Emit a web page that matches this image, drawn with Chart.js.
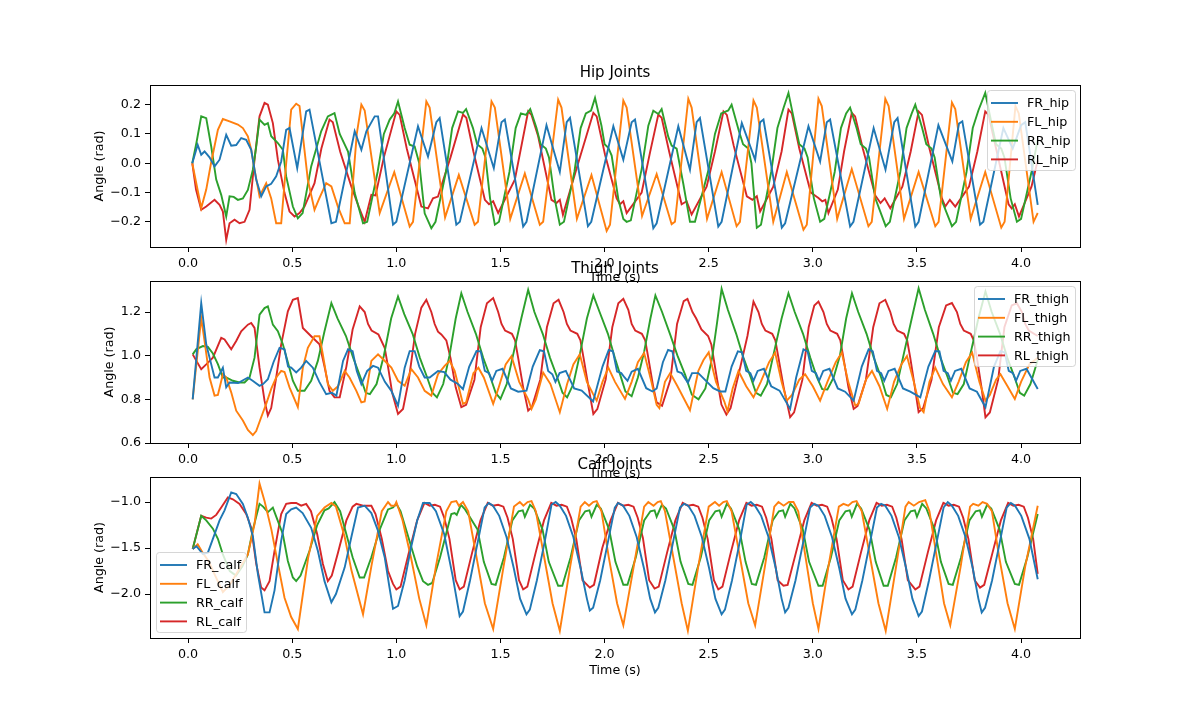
<!DOCTYPE html>
<html>
<head>
<meta charset="utf-8">
<script src="https://cdn.jsdelivr.net/npm/chart.js@4.4.0/dist/chart.umd.min.js"></script>
<style>
body { margin:0; background:#fff; width:1200px; height:718px; position:relative; overflow:hidden; }
canvas { position:absolute; left:0; }
</style>
</head>
<body>
<canvas id="hipChart" width="1200" height="242" style="top:45px"></canvas>
<canvas id="thighChart" width="1200" height="242" style="top:241px"></canvas>
<canvas id="calfChart" width="1200" height="244" style="top:437px"></canvas>
<script>
// joint angles, [time (s), angle (rad)]
var FR_hip = [[0.02,0.0],[0.046,0.063],[0.063,0.029],[0.079,0.04],[0.103,0.02],[0.127,-0.011],[0.151,0.012],[0.183,0.097],[0.207,0.06],[0.231,0.062],[0.255,0.086],[0.279,0.08],[0.303,0.046],[0.327,-0.056],[0.351,-0.113],[0.375,-0.079],[0.399,-0.07],[0.423,-0.045],[0.447,0.006],
[0.471,0.114],[0.487,0.12],[0.524,-0.017],[0.567,0.177],[0.583,0.183],[0.688,-0.205],[0.71,-0.2],
[0.8,0.109],[0.832,0.046],[0.856,0.109],[0.896,0.16],[0.912,0.16],[0.984,-0.21],[1.0,-0.2],
[1.104,0.126],[1.152,0.023],[1.192,0.14],[1.208,0.154],[1.288,-0.21],[1.305,-0.2],
[1.409,0.12],[1.468,-0.017],[1.505,0.14],[1.521,0.149],[1.609,-0.216],[1.625,-0.2],
[1.721,0.13],[1.785,-0.03],[1.818,0.14],[1.834,0.155],[1.92,-0.215],[1.936,-0.2],
[2.042,0.126],[2.09,0.012],[2.13,0.14],[2.146,0.149],[2.234,-0.222],[2.25,-0.205],
[2.354,0.126],[2.41,-0.022],[2.442,0.14],[2.458,0.154],[2.546,-0.216],[2.562,-0.2],
[2.659,0.137],[2.723,0.012],[2.747,0.14],[2.763,0.149],[2.851,-0.22],[2.867,-0.205],
[2.979,0.126],[3.035,0.006],[3.067,0.14],[3.083,0.149],[3.179,-0.216],[3.195,-0.2],
[3.292,0.12],[3.349,-0.022],[3.391,0.14],[3.407,0.154],[3.492,-0.216],[3.508,-0.2],
[3.603,0.13],[3.67,0.006],[3.702,0.135],[3.718,0.143],[3.803,-0.21],[3.819,-0.2],
[3.915,0.12],[3.96,0.05],[4.0,0.13],[4.02,0.14],[4.08,-0.142]]

var FL_hip = [[0.02,0.0],[0.063,-0.153],[0.087,-0.09],[0.11,0.0],[0.143,0.114],[0.167,0.151],[0.199,0.143],[0.239,0.132],[0.263,0.12],[0.287,0.092],[0.303,0.046],[0.319,-0.022],[0.343,-0.113],[0.375,-0.068],[0.399,-0.12],[0.423,-0.205],[0.447,-0.205],[0.471,0.0],[0.495,0.183],[0.519,0.203],[0.535,0.195],[0.575,-0.057],[0.607,-0.159],[0.63,-0.12],[0.663,-0.068],[0.688,-0.079],[0.72,-0.15],[0.752,-0.205],[0.776,-0.205],[0.81,0.1],[0.832,0.2],
[0.848,0.18],[0.92,-0.17],[0.99,-0.03],[1.064,-0.216],[1.08,-0.2],
[1.144,0.211],[1.16,0.19],[1.234,-0.185],[1.3,-0.04],[1.376,-0.21],[1.392,-0.2],
[1.457,0.211],[1.473,0.19],[1.547,-0.19],[1.617,-0.035],[1.689,-0.21],[1.705,-0.2],
[1.777,0.217],[1.793,0.19],[1.867,-0.19],[1.937,-0.04],[2.01,-0.231],[2.026,-0.21],
[2.09,0.214],[2.106,0.19],[2.18,-0.18],[2.25,-0.037],[2.322,-0.208],[2.338,-0.2],
[2.402,0.22],[2.418,0.19],[2.492,-0.19],[2.562,-0.03],[2.634,-0.215],[2.65,-0.2],
[2.715,0.214],[2.731,0.19],[2.81,-0.2],[2.875,-0.03],[2.955,-0.227],[2.971,-0.21],
[3.027,0.22],[3.043,0.195],[3.117,-0.19],[3.187,-0.02],[3.267,-0.215],[3.283,-0.2],
[3.348,0.22],[3.364,0.195],[3.438,-0.19],[3.508,-0.03],[3.588,-0.215],[3.604,-0.2],
[3.668,0.207],[3.684,0.185],[3.758,-0.19],[3.828,-0.03],[3.905,-0.22],[3.921,-0.2],
[3.973,0.195],[3.989,0.17],[4.06,-0.2],[4.08,-0.17]]

var RR_hip = [[0.02,0.0],[0.04,0.07],[0.063,0.16],[0.087,0.154],[0.111,0.057],[0.135,-0.056],[0.159,-0.108],[0.183,-0.182],[0.199,-0.113],[0.219,-0.115],[0.239,-0.125],[0.263,-0.12],[0.287,-0.091],[0.311,-0.022],[0.327,0.057],[0.343,0.149],[0.367,0.131],[0.383,0.137],[0.399,0.092],[0.431,0.069],[0.455,0.046],[0.471,-0.045],[0.503,-0.148],[0.527,-0.188],[0.55,-0.17],[0.591,-0.011],[0.639,0.109],[0.671,0.16],[0.703,0.171],[0.728,0.1],[0.768,0.04],[0.8,-0.102],[0.84,-0.205],
[0.86,-0.2],[0.91,-0.03],[0.94,0.1],[0.968,0.149],[0.99,0.17],[1.008,0.211],[1.04,0.12],[1.064,0.063],[1.088,0.057],[1.11,0.0],[1.136,-0.171],[1.168,-0.222],
[1.188,-0.2],[1.238,-0.03],[1.268,0.12],[1.296,0.177],[1.32,0.172],[1.335,0.185],[1.368,0.12],[1.388,0.065],[1.413,0.05],[1.428,0.02],[1.45,-0.12],[1.473,-0.21],
[1.493,-0.2],[1.543,-0.03],[1.573,0.12],[1.598,0.17],[1.623,0.165],[1.643,0.185],[1.673,0.12],[1.693,0.065],[1.718,0.05],[1.733,0.02],[1.76,-0.12],[1.785,-0.21],
[1.805,-0.2],[1.855,-0.03],[1.885,0.12],[1.91,0.17],[1.935,0.18],[1.954,0.223],[1.985,0.128],[2.0,0.065],[2.018,0.053],[2.034,0.026],[2.066,-0.123],[2.09,-0.19],[2.106,-0.2],
[2.126,-0.195],[2.178,-0.02],[2.21,0.128],[2.234,0.179],[2.258,0.168],[2.274,0.185],[2.306,0.09],[2.322,0.06],[2.346,0.05],[2.378,-0.07],[2.41,-0.2],[2.434,-0.2],
[2.5,-0.02],[2.53,0.1],[2.56,0.17],[2.594,0.18],[2.61,0.2],[2.645,0.11],[2.665,0.065],[2.69,0.05],[2.705,0.0],[2.731,-0.22],
[2.751,-0.21],[2.8,-0.03],[2.83,0.12],[2.86,0.19],[2.883,0.24],[2.915,0.13],[2.935,0.065],[2.96,0.05],[2.975,0.02],[3.005,-0.12],[3.035,-0.2],
[3.055,-0.19],[3.105,-0.03],[3.135,0.12],[3.16,0.17],[3.179,0.19],[3.21,0.12],[3.23,0.065],[3.255,0.05],[3.27,0.02],[3.3,-0.12],[3.35,-0.215],
[3.37,-0.2],[3.42,-0.03],[3.45,0.12],[3.475,0.17],[3.492,0.2],[3.525,0.12],[3.545,0.065],[3.57,0.05],[3.585,0.02],[3.615,-0.12],[3.668,-0.215],
[3.688,-0.2],[3.738,-0.03],[3.768,0.12],[3.795,0.18],[3.828,0.24],[3.86,0.13],[3.88,0.065],[3.905,0.05],[3.92,0.02],[3.95,-0.12],[3.98,-0.2],[4.0,-0.19],[4.05,-0.03],[4.08,0.08]]

var RL_hip = [[0.02,0.0],[0.038,-0.09],[0.063,-0.159],[0.087,-0.148],[0.127,-0.125],[0.151,-0.142],[0.167,-0.165],[0.183,-0.262],[0.199,-0.205],[0.223,-0.193],[0.247,-0.205],[0.271,-0.2],[0.295,-0.159],[0.319,0.012],[0.343,0.16],[0.367,0.206],[0.383,0.2],[0.407,0.137],[0.431,0.012],[0.463,-0.102],[0.487,-0.165],[0.511,-0.182],[0.535,-0.17],[0.559,-0.148],[0.607,-0.068],[0.64,0.05],[0.679,0.149],
[0.695,0.14],[0.73,0.04],[0.784,-0.08],[0.82,-0.15],[0.848,-0.2],[0.88,-0.108],[0.9,-0.11],[0.94,0.02],[1.0,0.177],
[1.016,0.165],[1.05,0.05],[1.088,-0.057],[1.12,-0.148],[1.152,-0.154],[1.176,-0.12],[1.2,-0.114],[1.26,0.02],[1.32,0.166],
[1.336,0.155],[1.37,0.04],[1.425,-0.125],[1.445,-0.14],[1.465,-0.13],[1.489,-0.17],[1.569,-0.056],[1.633,0.177],
[1.649,0.165],[1.681,0.092],[1.745,-0.125],[1.769,-0.136],[1.785,-0.125],[1.8,-0.176],[1.873,0.0],[1.946,0.172],
[1.962,0.16],[2.002,0.03],[2.058,-0.12],[2.074,-0.14],[2.09,-0.13],[2.106,-0.17],[2.178,-0.1],[2.218,0.036],[2.258,0.166],
[2.274,0.155],[2.31,0.04],[2.37,-0.14],[2.394,-0.13],[2.418,-0.175],[2.49,-0.08],[2.53,0.04],[2.571,0.177],
[2.587,0.165],[2.62,0.06],[2.683,-0.113],[2.71,-0.125],[2.731,-0.113],[2.747,-0.165],[2.81,-0.08],[2.85,0.04],[2.883,0.183],
[2.899,0.17],[2.935,0.05],[2.99,-0.1],[3.027,-0.119],[3.045,-0.13],[3.06,-0.125],[3.075,-0.17],[3.12,-0.09],[3.15,0.04],[3.187,0.172],
[3.203,0.16],[3.24,0.05],[3.3,-0.11],[3.325,-0.136],[3.345,-0.12],[3.372,-0.154],[3.43,-0.08],[3.47,0.04],[3.508,0.177],
[3.524,0.165],[3.56,0.05],[3.62,-0.12],[3.636,-0.148],[3.658,-0.125],[3.684,-0.148],[3.75,-0.08],[3.79,0.04],[3.828,0.177],
[3.844,0.165],[3.88,0.05],[3.94,-0.14],[3.955,-0.154],[3.97,-0.14],[3.99,-0.182],[4.05,-0.08],[4.08,0.01]]

var FR_thigh = [[0.022,0.8],[0.063,1.241],[0.087,1.052],[0.103,0.991],[0.127,0.9],[0.143,0.9],[0.167,0.945],[0.183,0.855],[0.199,0.877],[0.24,0.875],[0.287,0.9],[0.31,0.885],[0.343,0.862],[0.36,0.87],[0.383,0.892],[0.41,0.97],[0.439,1.036],[0.463,1.029],[0.48,0.95],[0.495,0.945],[0.519,0.923],[0.543,0.945],[0.567,0.976],[0.599,0.945],[0.63,0.88],[0.663,0.824],[0.69,0.83],[0.712,0.817],[0.744,0.976],[0.768,1.029],[0.79,1.02],[0.81,0.93],[0.832,0.87],[0.86,0.93],[0.888,0.953],[0.912,0.945],[0.945,0.88],[0.976,0.839],[1.008,0.771],[1.04,0.945],[1.064,1.021],[1.088,1.021],[1.11,0.95],[1.136,0.9],[1.16,0.9],[1.2,0.93],[1.23,0.925],[1.26,0.89],[1.296,0.87],[1.32,0.847],[1.35,0.95],
[1.385,1.021],[1.405,1.02],[1.425,0.93],[1.445,0.92],[1.46,0.885],[1.48,0.93],[1.51,0.94],[1.55,0.85],[1.585,0.835],[1.625,0.84],[1.655,0.95],
[1.689,1.025],[1.709,1.02],[1.729,0.93],[1.749,0.915],[1.764,0.88],[1.784,0.92],[1.814,0.93],[1.854,0.85],[1.89,0.84],[1.945,0.79],[1.99,0.95],
[2.02,1.026],[2.04,1.02],[2.06,0.927],[2.08,0.92],[2.096,0.9],[2.11,0.885],[2.13,0.927],[2.16,0.94],[2.2,0.851],[2.23,0.836],[2.25,0.85],[2.28,0.97],
[2.305,1.026],[2.325,1.02],[2.35,0.927],[2.37,0.92],[2.4,0.876],[2.42,0.92],[2.45,0.92],[2.522,0.851],[2.555,0.836],[2.58,0.836],[2.61,0.95],
[2.64,1.02],[2.66,1.015],[2.68,0.93],[2.7,0.92],[2.715,0.885],[2.735,0.93],[2.765,0.94],[2.8,0.86],[2.84,0.84],[2.891,0.756],[2.92,0.9],
[2.955,1.029],[2.975,1.02],[2.995,0.93],[3.015,0.92],[3.03,0.885],[3.05,0.93],[3.08,0.94],[3.12,0.85],[3.155,0.835],[3.196,0.794],[3.235,0.95],
[3.268,1.029],[3.288,1.02],[3.308,0.93],[3.328,0.92],[3.343,0.885],[3.363,0.93],[3.393,0.94],[3.433,0.85],[3.468,0.835],[3.516,0.809],[3.555,0.95],
[3.588,1.021],[3.608,1.02],[3.628,0.93],[3.648,0.92],[3.663,0.885],[3.683,0.93],[3.713,0.94],[3.753,0.85],[3.788,0.835],[3.829,0.764],[3.87,0.95],
[3.901,1.021],[3.921,1.015],[3.941,0.93],[3.961,0.92],[3.976,0.885],[3.996,0.93],[4.026,0.94],[4.08,0.847]]

var FL_thigh = [[0.022,0.8],[0.063,1.173],[0.079,1.067],[0.103,0.9],[0.127,0.817],[0.143,0.82],[0.167,0.915],[0.183,0.9],[0.207,0.832],[0.231,0.748],[0.263,0.703],[0.287,0.66],[0.311,0.636],[0.327,0.655],[0.351,0.718],[0.375,0.779],[0.4,0.85],[0.423,0.9],[0.447,0.93],[0.463,0.925],[0.487,0.855],[0.527,0.764],[0.551,0.945],[0.575,1.036],[0.607,1.089],[0.631,1.089],[0.647,1.006],[0.671,0.87],[0.695,0.839],[0.72,0.86],[0.752,0.93],[0.775,0.9],[0.808,0.839],[0.832,0.786],[0.848,0.79],[0.88,0.976],[0.912,1.006],[0.94,0.98],[0.976,0.945],[1.008,0.885],[1.04,0.862],[1.072,0.938],[1.104,0.9],[1.136,0.839],[1.168,0.817],[1.2,0.915],[1.232,0.953],[1.256,0.976],[1.28,0.93],[1.32,0.779],[1.335,0.786],[1.37,0.92],[1.394,0.945],[1.42,0.9],[1.465,0.779],[1.49,0.85],[1.525,0.96],[1.553,0.998],
[1.59,0.88],[1.633,0.8],[1.649,0.756],[1.67,0.8],[1.705,0.923],[1.74,0.87],[1.785,0.741],[1.82,0.87],[1.85,0.96],[1.881,1.006],
[1.915,0.88],[1.945,0.824],[1.962,0.794],[1.99,0.88],[2.018,0.945],[2.05,0.88],[2.098,0.802],[2.13,0.88],[2.16,0.97],[2.19,1.012],
[2.225,0.88],[2.25,0.775],[2.263,0.76],[2.29,0.88],[2.315,0.92],[2.35,0.86],[2.41,0.75],[2.45,0.93],[2.475,0.98],[2.5,1.015],
[2.535,0.88],[2.575,0.79],[2.59,0.745],[2.615,0.85],[2.643,0.93],[2.68,0.86],[2.715,0.809],[2.75,0.88],[2.79,0.97],[2.819,1.014],
[2.85,0.88],[2.875,0.794],[2.9,0.82],[2.935,0.89],[2.963,0.915],[3.0,0.86],[3.035,0.794],[3.07,0.88],[3.11,0.97],[3.139,1.014],
[3.17,0.88],[3.204,0.771],[3.22,0.78],[3.255,0.89],[3.284,0.93],[3.32,0.86],[3.357,0.756],[3.39,0.88],[3.425,0.96],[3.452,0.998],
[3.485,0.88],[3.515,0.76],[3.532,0.741],[3.56,0.88],[3.588,0.945],[3.625,0.87],[3.668,0.809],[3.7,0.88],[3.735,0.97],[3.765,1.014],
[3.8,0.88],[3.829,0.794],[3.85,0.82],[3.88,0.89],[3.901,0.915],[3.935,0.86],[3.97,0.802],[4.0,0.88],[4.04,0.96],[4.08,0.99]]

var RR_thigh = [[0.022,1.006],[0.04,1.03],[0.071,1.044],[0.095,1.04],[0.119,1.01],[0.143,0.961],[0.167,0.9],[0.183,0.9],[0.215,0.885],[0.247,0.877],[0.271,0.877],[0.295,0.9],[0.319,0.991],[0.343,1.188],[0.367,1.218],[0.383,1.226],[0.407,1.142],[0.431,1.112],[0.455,1.052],[0.479,0.97],[0.503,0.885],[0.527,0.839],[0.559,0.839],[0.591,0.885],[0.623,0.976],[0.655,1.112],[0.688,1.241],
[0.718,1.17],[0.758,1.09],[0.793,0.99],[0.828,0.9],[0.853,0.83],[0.873,0.824],[0.905,0.87],[0.94,1.0],[0.975,1.17],[1.008,1.271],
[1.038,1.19],[1.078,1.1],[1.113,0.99],[1.148,0.9],[1.173,0.83],[1.195,0.809],[1.225,0.87],[1.255,1.0],[1.285,1.17],[1.312,1.286],
[1.342,1.2],[1.382,1.1],[1.417,0.99],[1.452,0.9],[1.477,0.83],[1.5,0.802],[1.53,0.87],[1.56,1.0],[1.6,1.17],[1.633,1.302],
[1.663,1.2],[1.703,1.1],[1.738,0.99],[1.773,0.9],[1.798,0.83],[1.82,0.809],[1.85,0.87],[1.88,1.0],[1.915,1.17],[1.946,1.276],
[1.976,1.2],[2.016,1.1],[2.05,0.988],[2.08,0.897],[2.1,0.836],[2.13,0.814],[2.16,0.9],[2.19,1.018],[2.22,1.17],[2.244,1.276],
[2.276,1.2],[2.316,1.094],[2.35,1.0],[2.387,0.912],[2.419,0.821],[2.451,0.8],[2.484,0.85],[2.516,0.988],[2.54,1.15],[2.562,1.306],
[2.592,1.21],[2.632,1.1],[2.667,0.99],[2.702,0.9],[2.727,0.83],[2.75,0.817],[2.78,0.87],[2.81,1.0],[2.85,1.17],[2.883,1.286],
[2.913,1.2],[2.953,1.1],[2.988,0.99],[3.02,0.9],[3.045,0.847],[3.07,0.845],[3.1,0.9],[3.13,1.0],[3.16,1.17],[3.188,1.286],
[3.218,1.2],[3.258,1.1],[3.293,0.99],[3.328,0.9],[3.353,0.82],[3.375,0.81],[3.405,0.87],[3.435,1.0],[3.475,1.17],[3.508,1.309],
[3.538,1.21],[3.578,1.1],[3.613,0.99],[3.648,0.9],[3.673,0.83],[3.695,0.824],[3.725,0.87],[3.755,1.0],[3.795,1.17],[3.829,1.294],
[3.859,1.2],[3.899,1.1],[3.934,0.99],[3.969,0.9],[3.994,0.83],[4.015,0.817],[4.045,0.87],[4.08,0.98]]

var RL_thigh = [[0.022,1.006],[0.063,0.938],[0.087,0.96],[0.119,0.991],[0.159,1.082],[0.175,1.074],[0.207,1.029],[0.231,1.067],[0.255,1.112],[0.287,1.142],[0.303,1.15],[0.319,1.127],[0.343,0.945],[0.367,0.794],[0.383,0.726],[0.399,0.76],[0.423,0.9],[0.447,1.052],[0.479,1.203],[0.503,1.256],[0.527,1.264],[0.551,1.127],[0.591,1.089],[0.631,1.052],[0.655,0.95],[0.679,0.839],[0.703,0.809],[0.728,0.809],[0.76,0.95],[0.79,1.12],[0.824,1.226],
[0.848,1.2],[0.864,1.145],[0.881,1.115],[0.914,1.097],[0.944,1.036],[0.96,0.95],[0.98,0.83],[1.008,0.733],[1.032,0.756],[1.06,0.89],[1.09,1.1],[1.12,1.22],[1.144,1.256],
[1.168,1.2],[1.184,1.145],[1.2,1.11],[1.216,1.097],[1.24,1.07],[1.26,0.99],[1.285,0.855],[1.312,0.764],[1.335,0.775],[1.375,0.89],[1.405,1.13],[1.435,1.24],[1.465,1.264],
[1.489,1.2],[1.505,1.145],[1.522,1.115],[1.555,1.1],[1.57,1.07],[1.585,0.99],[1.609,0.855],[1.633,0.748],[1.651,0.765],[1.691,0.89],[1.723,1.13],[1.755,1.24],[1.779,1.256],
[1.803,1.2],[1.819,1.145],[1.836,1.115],[1.869,1.1],[1.884,1.07],[1.899,0.99],[1.923,0.855],[1.946,0.733],[1.965,0.755],[2.005,0.89],[2.037,1.13],[2.066,1.24],[2.09,1.26],
[2.114,1.21],[2.13,1.145],[2.147,1.115],[2.179,1.1],[2.195,1.07],[2.21,0.99],[2.234,0.855],[2.25,0.786],[2.276,0.77],[2.316,0.89],[2.348,1.145],[2.38,1.25],[2.398,1.26],
[2.422,1.2],[2.44,1.17],[2.465,1.12],[2.497,1.09],[2.513,1.05],[2.537,0.91],[2.561,0.776],[2.585,0.73],[2.605,0.76],[2.645,0.92],[2.686,1.09],[2.715,1.248],
[2.739,1.2],[2.755,1.145],[2.772,1.115],[2.805,1.1],[2.82,1.07],[2.835,0.99],[2.86,0.855],[2.891,0.718],[2.91,0.74],[2.95,0.89],[2.98,1.13],[3.007,1.23],[3.027,1.248],
[3.051,1.2],[3.067,1.145],[3.084,1.115],[3.117,1.1],[3.132,1.07],[3.147,0.99],[3.171,0.855],[3.196,0.756],[3.215,0.77],[3.255,0.89],[3.29,1.13],[3.32,1.24],[3.348,1.256],
[3.372,1.2],[3.388,1.145],[3.405,1.115],[3.438,1.1],[3.453,1.07],[3.468,0.99],[3.49,0.855],[3.508,0.741],[3.53,0.76],[3.57,0.89],[3.605,1.13],[3.64,1.23],[3.668,1.241],
[3.692,1.2],[3.708,1.145],[3.725,1.115],[3.758,1.1],[3.773,1.07],[3.788,0.99],[3.81,0.855],[3.829,0.718],[3.85,0.74],[3.89,0.89],[3.92,1.13],[3.955,1.23],[3.98,1.24],
[4.004,1.2],[4.02,1.145],[4.037,1.115],[4.08,1.09]]

var FR_calf = [[0.022,-1.51],[0.04,-1.48],[0.071,-1.565],[0.095,-1.55],[0.119,-1.4],[0.151,-1.2],[0.175,-1.09],[0.207,-0.895],[0.231,-0.913],[0.263,-1.02],[0.287,-1.17],[0.311,-1.37],[0.335,-1.78],[0.367,-2.2],[0.391,-2.2],[0.415,-1.96],[0.447,-1.42],[0.471,-1.13],[0.495,-1.08],[0.519,-1.06],[0.55,-1.12],[0.591,-1.28],[0.623,-1.53],[0.655,-1.86],[0.688,-2.09],[0.71,-2.0],[0.752,-1.71],[0.784,-1.38],[0.816,-1.06],[0.848,-1.04],[0.88,-1.12],[0.91,-1.3],[0.944,-1.6],[0.965,-1.9],[0.984,-2.16],[1.008,-2.13],[1.04,-1.85],[1.07,-1.5],[1.1,-1.2],[1.128,-1.01],[1.16,-1.01],[1.19,-1.1],[1.23,-1.35],[1.27,-1.8],[1.304,-2.24],
[1.32,-2.19],[1.354,-1.85],[1.394,-1.4],[1.424,-1.06],[1.444,-1.01],[1.464,-1.04],[1.494,-1.15],[1.529,-1.38],[1.564,-1.72],[1.594,-2.05],[1.625,-2.22],
[1.641,-2.17],[1.675,-1.85],[1.715,-1.4],[1.745,-1.03],[1.765,-1.0],[1.785,-1.04],[1.815,-1.15],[1.85,-1.38],[1.885,-1.72],[1.915,-2.05],[1.929,-2.18],
[1.945,-2.15],[1.979,-1.85],[2.019,-1.4],[2.049,-1.06],[2.065,-1.01],[2.089,-1.04],[2.119,-1.15],[2.154,-1.38],[2.189,-1.72],[2.219,-2.05],[2.242,-2.2],
[2.258,-2.15],[2.292,-1.85],[2.332,-1.4],[2.362,-1.06],[2.382,-1.02],[2.402,-1.04],[2.432,-1.15],[2.467,-1.38],[2.502,-1.72],[2.532,-2.05],[2.562,-2.22],
[2.578,-2.17],[2.612,-1.85],[2.652,-1.4],[2.682,-1.03],[2.702,-1.0],[2.722,-1.04],[2.752,-1.15],[2.787,-1.38],[2.822,-1.72],[2.85,-2.05],[2.867,-2.2],
[2.883,-2.15],[2.917,-1.85],[2.957,-1.4],[2.987,-1.06],[3.007,-1.02],[3.027,-1.04],[3.057,-1.15],[3.092,-1.38],[3.127,-1.72],[3.157,-2.05],[3.188,-2.22],
[3.204,-2.17],[3.238,-1.85],[3.278,-1.4],[3.308,-1.06],[3.328,-1.02],[3.348,-1.04],[3.378,-1.15],[3.413,-1.38],[3.448,-1.72],[3.478,-2.05],[3.508,-2.24],
[3.524,-2.19],[3.558,-1.85],[3.598,-1.4],[3.628,-1.06],[3.648,-1.0],[3.668,-1.04],[3.698,-1.15],[3.733,-1.38],[3.768,-1.72],[3.795,-2.05],[3.811,-2.2],
[3.827,-2.15],[3.861,-1.85],[3.901,-1.4],[3.931,-1.06],[3.951,-1.01],[3.971,-1.04],[4.001,-1.15],[4.04,-1.4],[4.08,-1.84]]

var FL_calf = [[0.022,-1.51],[0.046,-1.46],[0.07,-1.55],[0.1,-1.65],[0.13,-1.8],[0.167,-1.98],[0.2,-1.9],[0.24,-1.75],[0.287,-1.57],[0.319,-1.24],[0.343,-0.8],[0.367,-0.99],[0.4,-1.3],[0.431,-1.67],[0.463,-2.04],[0.495,-2.25],[0.527,-2.38],
[0.577,-1.6],[0.62,-1.15],[0.655,-1.06],[0.688,-1.01],[0.71,-1.05],[0.752,-1.38],[0.784,-1.74],[0.84,-2.22],
[0.88,-1.7],[0.93,-1.1],[0.96,-1.0],[0.975,-1.04],[0.992,-1.04],[1.0,-1.0],[1.03,-1.2],[1.07,-1.6],[1.11,-2.05],[1.144,-2.34],
[1.19,-1.7],[1.24,-1.1],[1.264,-1.0],[1.288,-0.99],[1.3,-1.04],[1.32,-1.0],[1.345,-1.1],[1.385,-1.6],[1.425,-2.1],[1.465,-2.38],
[1.515,-1.7],[1.565,-1.05],[1.593,-1.0],[1.61,-1.04],[1.63,-1.0],[1.649,-0.99],[1.67,-1.1],[1.71,-1.6],[1.75,-2.1],[1.785,-2.4],
[1.835,-1.7],[1.885,-1.05],[1.905,-1.0],[1.925,-1.04],[1.945,-1.0],[1.962,-0.99],[1.985,-1.1],[2.02,-1.6],[2.06,-2.1],[2.09,-2.34],
[2.14,-1.7],[2.19,-1.05],[2.21,-1.0],[2.235,-1.04],[2.255,-1.0],[2.27,-0.99],[2.29,-1.1],[2.33,-1.6],[2.37,-2.1],[2.4,-2.4],
[2.45,-1.7],[2.5,-1.05],[2.53,-1.0],[2.55,-1.04],[2.57,-1.0],[2.587,-0.99],[2.61,-1.1],[2.65,-1.6],[2.69,-2.1],[2.723,-2.34],
[2.77,-1.7],[2.815,-1.05],[2.835,-1.0],[2.86,-1.04],[2.885,-1.0],[2.907,-1.0],[2.93,-1.1],[2.965,-1.6],[3.0,-2.1],[3.027,-2.38],
[3.075,-1.7],[3.125,-1.05],[3.147,-1.02],[3.17,-1.04],[3.19,-1.0],[3.21,-0.99],[3.235,-1.1],[3.275,-1.6],[3.315,-2.1],[3.35,-2.4],
[3.4,-1.7],[3.445,-1.05],[3.46,-1.0],[3.485,-1.04],[3.51,-1.0],[3.54,-0.98],[3.56,-1.1],[3.595,-1.6],[3.63,-2.1],[3.66,-2.34],
[3.71,-1.7],[3.755,-1.05],[3.77,-1.02],[3.795,-1.04],[3.815,-1.0],[3.837,-1.02],[3.86,-1.1],[3.895,-1.6],[3.935,-2.1],[3.97,-2.38],
[4.02,-1.7],[4.08,-1.04]]

var RR_calf = [[0.022,-1.51],[0.063,-1.15],[0.087,-1.2],[0.119,-1.29],[0.143,-1.4],[0.167,-1.57],[0.2,-1.75],[0.23,-1.8],[0.26,-1.7],[0.287,-1.57],[0.311,-1.3],[0.343,-1.02],[0.36,-1.05],[0.383,-1.11],[0.407,-1.06],[0.43,-1.2],[0.455,-1.35],[0.479,-1.64],[0.503,-1.82],[0.519,-1.86],
[0.54,-1.8],[0.583,-1.53],[0.62,-1.25],[0.655,-1.09],[0.675,-1.07],[0.703,-1.0],[0.73,-1.1],[0.76,-1.35],[0.79,-1.6],[0.824,-1.82],
[0.845,-1.82],[0.88,-1.6],[0.92,-1.3],[0.96,-1.08],[0.984,-1.06],[1.0,-1.02],[1.02,-1.1],[1.06,-1.4],[1.1,-1.7],[1.128,-1.86],[1.152,-1.9],
[1.172,-1.88],[1.21,-1.6],[1.25,-1.25],[1.264,-1.13],[1.28,-1.12],[1.29,-1.14],[1.31,-1.03],[1.33,-1.08],[1.39,-1.3],[1.42,-1.65],[1.457,-1.89],
[1.477,-1.9],[1.517,-1.6],[1.557,-1.2],[1.587,-1.1],[1.607,-1.09],[1.617,-1.16],[1.642,-1.03],[1.662,-1.07],[1.702,-1.3],[1.732,-1.65],[1.777,-1.91],
[1.797,-1.91],[1.837,-1.6],[1.877,-1.2],[1.907,-1.1],[1.927,-1.09],[1.937,-1.16],[1.962,-1.03],[1.982,-1.07],[2.022,-1.3],[2.052,-1.65],[2.09,-1.9],
[2.11,-1.9],[2.15,-1.6],[2.19,-1.2],[2.22,-1.1],[2.24,-1.09],[2.25,-1.16],[2.275,-1.03],[2.295,-1.07],[2.335,-1.3],[2.365,-1.65],[2.402,-1.89],
[2.422,-1.9],[2.462,-1.6],[2.502,-1.2],[2.532,-1.1],[2.552,-1.09],[2.562,-1.16],[2.587,-1.02],[2.607,-1.07],[2.647,-1.3],[2.677,-1.65],[2.707,-1.89],
[2.727,-1.9],[2.767,-1.6],[2.807,-1.2],[2.837,-1.1],[2.857,-1.09],[2.867,-1.16],[2.892,-1.02],[2.912,-1.07],[2.952,-1.3],[2.982,-1.65],[3.027,-1.91],
[3.047,-1.91],[3.087,-1.6],[3.127,-1.2],[3.157,-1.1],[3.177,-1.09],[3.187,-1.16],[3.212,-1.02],[3.232,-1.07],[3.272,-1.3],[3.302,-1.65],[3.34,-1.91],
[3.36,-1.91],[3.4,-1.6],[3.44,-1.2],[3.47,-1.1],[3.49,-1.09],[3.5,-1.16],[3.525,-1.02],[3.545,-1.07],[3.585,-1.3],[3.615,-1.65],[3.652,-1.89],
[3.672,-1.9],[3.712,-1.6],[3.752,-1.2],[3.782,-1.1],[3.802,-1.09],[3.812,-1.16],[3.837,-1.03],[3.857,-1.07],[3.897,-1.3],[3.927,-1.65],[3.97,-1.89],
[3.99,-1.9],[4.03,-1.6],[4.08,-1.13]]

var RL_calf = [[0.022,-1.51],[0.063,-1.15],[0.087,-1.17],[0.111,-1.18],[0.135,-1.14],[0.159,-1.06],[0.191,-0.95],[0.215,-0.97],[0.247,-1.02],[0.279,-1.13],[0.303,-1.28],[0.327,-1.67],[0.351,-1.93],[0.367,-1.96],[0.391,-1.86],[0.415,-1.53],[0.447,-1.13],[0.471,-1.02],[0.495,-1.01],[0.519,-1.01],[0.543,-1.04],[0.567,-1.02],[0.59,-1.1],[0.62,-1.35],[0.647,-1.67],[0.671,-1.86],[0.69,-1.8],[0.72,-1.55],[0.76,-1.2],[0.79,-1.05],[0.808,-1.02],[0.84,-1.04],[0.88,-1.04],[0.9,-1.13],[0.93,-1.4],[0.96,-1.75],[0.984,-1.89],[1.0,-1.95],
[1.02,-1.92],[1.06,-1.55],[1.1,-1.2],[1.135,-1.01],[1.16,-1.04],[1.185,-1.03],[1.21,-1.05],[1.23,-1.17],[1.255,-1.4],[1.285,-1.85],[1.304,-1.95],
[1.324,-1.92],[1.364,-1.55],[1.404,-1.2],[1.439,-1.01],[1.464,-1.04],[1.489,-1.03],[1.514,-1.05],[1.534,-1.17],[1.559,-1.4],[1.589,-1.85],[1.609,-1.95],
[1.629,-1.92],[1.669,-1.55],[1.709,-1.2],[1.744,-1.01],[1.769,-1.04],[1.794,-1.03],[1.819,-1.05],[1.839,-1.17],[1.864,-1.4],[1.894,-1.85],[1.929,-1.93],
[1.949,-1.9],[1.989,-1.5],[2.029,-1.2],[2.064,-1.01],[2.089,-1.04],[2.114,-1.03],[2.139,-1.05],[2.159,-1.17],[2.184,-1.39],[2.214,-1.85],[2.24,-1.94],
[2.26,-1.92],[2.3,-1.55],[2.34,-1.2],[2.375,-1.01],[2.4,-1.04],[2.425,-1.03],[2.45,-1.05],[2.47,-1.17],[2.495,-1.4],[2.525,-1.85],[2.546,-1.95],
[2.566,-1.92],[2.606,-1.55],[2.646,-1.2],[2.681,-1.01],[2.706,-1.04],[2.731,-1.03],[2.756,-1.05],[2.776,-1.17],[2.801,-1.4],[2.831,-1.85],[2.859,-1.91],
[2.879,-1.9],[2.919,-1.55],[2.959,-1.2],[2.994,-1.01],[3.019,-1.04],[3.044,-1.03],[3.069,-1.05],[3.089,-1.17],[3.114,-1.4],[3.144,-1.85],[3.171,-1.95],
[3.191,-1.92],[3.231,-1.55],[3.271,-1.2],[3.306,-1.01],[3.331,-1.04],[3.356,-1.03],[3.381,-1.05],[3.401,-1.17],[3.426,-1.4],[3.456,-1.85],[3.492,-1.95],
[3.512,-1.92],[3.552,-1.55],[3.592,-1.2],[3.627,-1.01],[3.652,-1.04],[3.677,-1.03],[3.702,-1.05],[3.722,-1.17],[3.747,-1.4],[3.777,-1.85],[3.803,-1.93],
[3.823,-1.9],[3.863,-1.55],[3.903,-1.2],[3.938,-1.01],[3.963,-1.04],[3.988,-1.03],[4.013,-1.05],[4.033,-1.17],[4.058,-1.4],[4.08,-1.78]]

var colors = ['#1f77b4', '#ff7f0e', '#2ca02c', '#d62728']
var fontFam = '"DejaVu Sans", sans-serif'

Chart.defaults.font.family = fontFam
Chart.defaults.font.size = 12.7
Chart.defaults.color = '#000'

function fmt(v) {
    if (Math.abs(v) < 1e-9) return '0.0'
    return v.toFixed(1).replace('-', '\u2212')
}

// box, title, axis labels and legend, the way matplotlib draws them
var framePlugin = {
    id: 'frame',
    afterDraw: function (chart, args, opts) {
        let ctx = chart.ctx
        let a = chart.chartArea
        ctx.save()
        ctx.strokeStyle = '#000'
        ctx.lineWidth = 1
        ctx.strokeRect(Math.round(a.left) + 0.5, Math.round(a.top) + 0.5, Math.round(a.right - a.left), Math.round(a.bottom - a.top))

        ctx.fillStyle = '#000'
        ctx.textAlign = 'center'
        ctx.textBaseline = 'middle'
        ctx.font = '15px ' + fontFam
        ctx.fillText(opts.title, (a.left + a.right) / 2, a.top - 12)
        ctx.font = '12.7px ' + fontFam
        ctx.fillText('Time (s)', (a.left + a.right) / 2, a.bottom + opts.xlabelGap)
        ctx.save()
        ctx.translate(opts.ylabelX, (a.top + a.bottom) / 2)
        ctx.rotate(-Math.PI / 2)
        ctx.fillText('Angle (rad)', 0, 0)
        ctx.restore()

        // legend
        let lg = opts.legend
        let w = lg.w, h = 80
        let x = lg.corner == 'ur' ? a.right - 5 - w : a.left + 6
        let y = lg.corner == 'ur' ? a.top + 5 : a.bottom - 6 - h
        ctx.beginPath()
        ctx.roundRect(x + 0.5, y + 0.5, w, h, 3)
        ctx.fillStyle = 'rgba(255,255,255,0.8)'
        ctx.fill()
        ctx.strokeStyle = 'rgba(204,204,204,0.8)'
        ctx.stroke()
        ctx.textAlign = 'left'
        ctx.font = '12.7px ' + fontFam
        chart.data.datasets.forEach(function (ds, i) {
            let ry = y + 13 + i * 18.8
            ctx.beginPath()
            ctx.strokeStyle = ds.borderColor
            ctx.lineWidth = 1.9
            ctx.moveTo(x + 4, ry)
            ctx.lineTo(x + 31, ry)
            ctx.stroke()
            ctx.fillStyle = '#000'
            ctx.fillText(ds.label, x + 40, ry + 1)
        })
        ctx.restore()
    }
}

function makeChart(id, title, names, series, yMin, yMax, step, ylabelX, xlabelGap, legend) {
    let datasets = []
    for (let i = 0; i < series.length; i++) {
        datasets.push({
            label: names[i],
            data: series[i].map(function (p) { return { x: p[0], y: p[1] } }),
            borderColor: colors[i],
            borderWidth: 1.9,
            pointRadius: 0,
            fill: false,
            tension: 0
        })
    }
    let tickGrid = { drawOnChartArea: false, drawTicks: true, tickLength: 5, color: '#000', tickColor: '#000', tickWidth: 1 }
    let canvas = document.getElementById(id)
    return new Chart(canvas, {
        type: 'line',
        data: { datasets: datasets },
        options: {
            responsive: false,
            animation: false,
            layout: { padding: { top: 40, right: 120, left: 0, bottom: 0 } },
            plugins: {
                legend: { display: false },
                tooltip: { enabled: false },
                frame: { title: title, ylabelX: ylabelX, xlabelGap: xlabelGap, legend: legend }
            },
            scales: {
                x: {
                    type: 'linear', min: -0.183, max: 4.283,
                    ticks: { stepSize: 0.5, includeBounds: false, autoSkip: false, maxRotation: 0, padding: 4, callback: fmt },
                    grid: tickGrid,
                    border: { display: false },
                    afterFit: function (s) { s.height = canvas.height - 40 - (id == 'calfChart' ? 161 : 162) }
                },
                y: {
                    type: 'linear', min: yMin, max: yMax,
                    ticks: { stepSize: step, includeBounds: false, padding: 4, callback: fmt },
                    grid: tickGrid,
                    border: { display: false },
                    afterFit: function (s) { s.width = 150 }
                }
            }
        },
        plugins: [framePlugin]
    })
}

makeChart('hipChart', 'Hip Joints', ['FR_hip', 'FL_hip', 'RR_hip', 'RL_hip'],
    [FR_hip, FL_hip, RR_hip, RL_hip], -0.286, 0.267, 0.1, 100, 31, { corner: 'ur', w: 88 })
makeChart('thighChart', 'Thigh Joints', ['FR_thigh', 'FL_thigh', 'RR_thigh', 'RL_thigh'],
    [FR_thigh, FL_thigh, RR_thigh, RL_thigh], 0.6, 1.342, 0.2, 110, 31, { corner: 'ur', w: 101 })
makeChart('calfChart', 'Calf Joints', ['FR_calf', 'FL_calf', 'RR_calf', 'RL_calf'],
    [FR_calf, FL_calf, RR_calf, RL_calf], -2.478, -0.728, 0.5, 100, 33, { corner: 'll', w: 90 })
</script>
</body>
</html>
